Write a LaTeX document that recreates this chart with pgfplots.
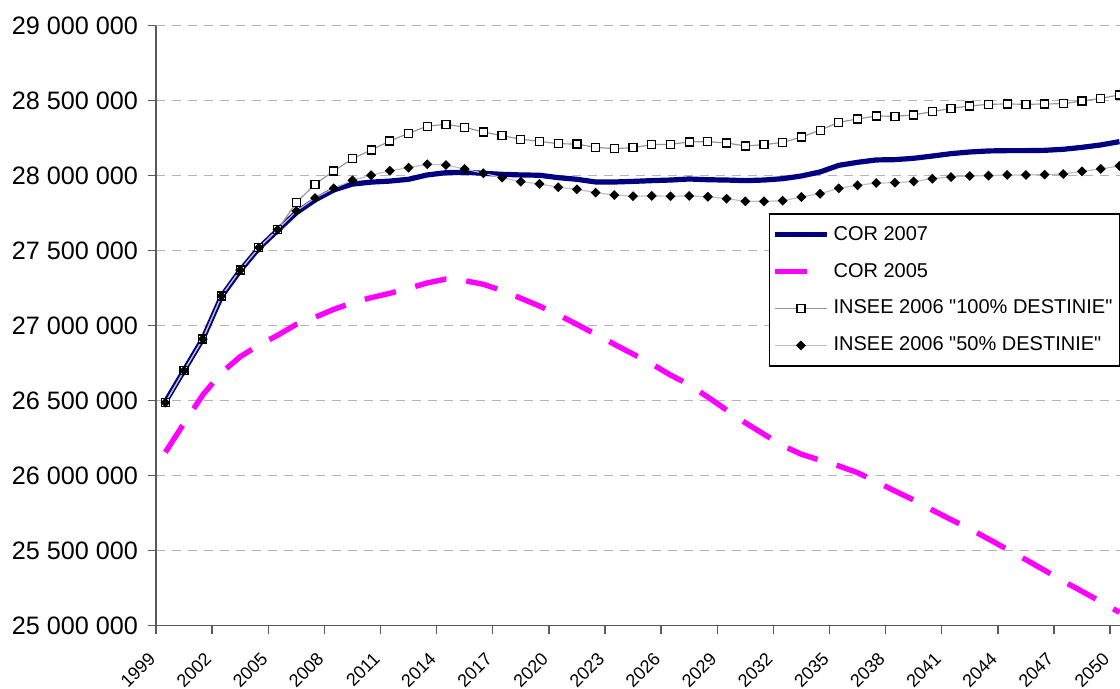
\documentclass[border=0pt]{standalone}
\usepackage{fontspec}
\setmainfont{Liberation Sans}[Ligatures=TeXOff]
\usepackage{pgfplots}
\usepackage{pgfplotstable}
\pgfplotsset{compat=1.18}
\definecolor{navyc}{RGB}{0,0,128}
\definecolor{magc}{RGB}{255,0,255}
\definecolor{gridc}{RGB}{180,180,180}
\definecolor{lineA}{RGB}{150,150,150}
\definecolor{lineB}{RGB}{192,192,192}
\definecolor{axc}{RGB}{90,90,90}

\pgfplotstableread{
year cortwo corone inseeA inseeB
1999 26492000 26156000 26487000 26487000
2000 26702000 26350000 26700000 26700000
2001 26912000 26538000 26911000 26911000
2002 27195000 26687000 27198000 27198000
2003 27368000 26793000 27371000 27371000
2004 27517000 26871000 27520000 27520000
2005 27636000 26936000 27640000 27640000
2006 27753000 27009000 27820000 27764000
2007 27838000 27056000 27943000 27851000
2008 27905000 27109000 28031000 27916000
2009 27944000 27153000 28113000 27969000
2010 27957000 27187000 28171000 28003000
2011 27964000 27216000 28231000 28033000
2012 27976000 27249000 28283000 28053000
2013 28005000 27285000 28330000 28076000
2014 28020000 27311000 28343000 28071000
2015 28023000 27300000 28323000 28045000
2016 28016000 27276000 28291000 28016000
2017 28009000 27234000 28267000 27987000
2018 28005000 27183000 28243000 27960000
2019 28003000 27131000 28229000 27945000
2020 27987000 27073000 28213000 27923000
2021 27976000 27009000 28211000 27909000
2022 27958000 26943000 28189000 27887000
2023 27958000 26876000 28180000 27871000
2024 27962000 26811000 28187000 27863000
2025 27967000 26745000 28207000 27865000
2026 27971000 26671000 28209000 27863000
2027 27978000 26607000 28225000 27865000
2028 27973000 26524000 28227000 27860000
2029 27971000 26438000 28218000 27847000
2030 27967000 26353000 28198000 27829000
2031 27971000 26276000 28207000 27829000
2032 27980000 26200000 28222000 27833000
2033 27998000 26143000 28258000 27858000
2034 28025000 26103000 28303000 27880000
2035 28069000 26065000 28356000 27916000
2036 28089000 26020000 28378000 27936000
2037 28105000 25960000 28398000 27951000
2038 28107000 25898000 28396000 27953000
2039 28116000 25838000 28405000 27962000
2040 28131000 25771000 28427000 27980000
2041 28147000 25707000 28449000 27991000
2042 28158000 25645000 28465000 27998000
2043 28165000 25578000 28476000 28000000
2044 28167000 25509000 28478000 28005000
2045 28167000 25440000 28476000 28005000
2046 28169000 25369000 28478000 28007000
2047 28176000 25296000 28480000 28011000
2048 28189000 25229000 28498000 28029000
2049 28205000 25160000 28516000 28045000
2050 28227000 25089000 28538000 28065000
}\datatable

\begin{document}
\begin{tikzpicture}
\begin{axis}[
  scale only axis, width=482pt, height=300pt,
  xmin=1998.5, xmax=2050.03, ymin=25000000, ymax=29000000,
  axis x line*=bottom, axis y line*=left,
  axis line style={draw=axc, line width=0.7pt},
  tick style={draw=axc, line width=0.7pt},
  tick align=outside, major tick length=4pt,
  xtick={1998.5,2001.5,2004.5,2007.5,2010.5,2013.5,2016.5,2019.5,2022.5,2025.5,2028.5,2031.5,2034.5,2037.5,2040.5,2043.5,2046.5,2049.5},
  xticklabels={1999,2002,2005,2008,2011,2014,2017,2020,2023,2026,2029,2032,2035,2038,2041,2044,2047,2050},
  ytick={25000000,25500000,26000000,26500000,27000000,27500000,28000000,28500000,29000000},
  ymajorgrids,
  major grid style={draw=gridc, dash pattern=on 4.5pt off 3.5pt, line width=0.6pt},
  scaled y ticks=false,
  yticklabel style={font=\fontsize{12.6}{14}\selectfont, xshift=-1.5pt, /pgf/number format/.cd, fixed, precision=0, 1000 sep={\ }, assume math mode=true},
  xticklabel style={font=\fontsize{9}{10}\selectfont, yshift=-8.5pt, xshift=0.5pt, rotate=45, anchor=east},
  legend cell align=left,
  legend style={at={(1,0.687)}, anchor=north east, draw=black, line width=0.6pt,
    font=\fontsize{10}{12}\selectfont, row sep=6pt, inner xsep=1.5pt, inner ysep=4pt},
  legend image code/.code={\draw[mark repeat=2,mark phase=2,#1] plot coordinates {(0pt,0pt) (13pt,0pt) (26pt,0pt)};},
]
\addplot[navyc, line width=2.6pt, no markers] table[x=year,y=cortwo]{\datatable};
\addlegendentry{COR 2007}
\addplot[magc, line width=2.7pt, dash pattern=on 16pt off 10pt, no markers] table[x=year,y=corone]{\datatable};
\addlegendentry{COR 2005}
\addplot[lineA, line width=0.6pt, mark=square*, mark size=2pt, mark options={draw=black, fill=white, line width=0.6pt, solid}] table[x=year,y=inseeA]{\datatable};
\addlegendentry{INSEE 2006 "100\% DESTINIE"}
\addplot[lineB, line width=0.6pt, mark=square*, mark size=1.45pt, mark options={draw=black, fill=black, rotate=45, solid}] table[x=year,y=inseeB]{\datatable};
\addlegendentry{INSEE 2006 "50\% DESTINIE"}
\end{axis}
\pgfresetboundingbox
\path[use as bounding box] ([xshift=-78pt,yshift=-31.65pt]current axis.south west) rectangle ([yshift=12.85pt]current axis.north east);
\end{tikzpicture}
\end{document}
